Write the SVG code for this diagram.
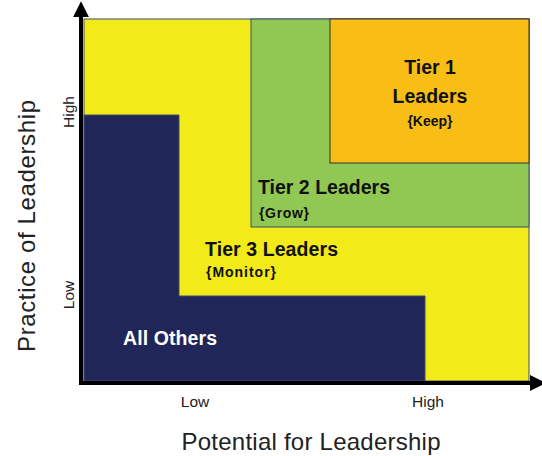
<svg xmlns="http://www.w3.org/2000/svg" width="542" height="456" viewBox="0 0 542 456">
<defs>
<style>
.t{font-family:"Liberation Sans",Arial,sans-serif;}
.b{font-weight:bold;fill:#111;font-size:19.5px;}
.s{font-weight:bold;fill:#111;font-size:14px;}
.ax{font-size:15.5px;fill:#222;}
.ttl{font-size:24px;fill:#222;}
.edge{stroke:#3d4f6e;stroke-width:1;}
</style>
<marker id="arr" viewBox="0 0 10 10" refX="2" refY="5" markerWidth="4" markerHeight="4" orient="auto" markerUnits="strokeWidth">
<path d="M0,0 L10,5 L0,10 z" fill="#000"/>
</marker>
</defs>
<rect width="542" height="456" fill="#fff"/>
<g id="tier3">
<rect x="84" y="19" width="445" height="362" fill="#f2ea19" class="edge"/>
<text class="t b" x="205" y="256" textLength="133">Tier 3 Leaders</text>
<text class="t s" x="206" y="277" textLength="70">{Monitor}</text>
</g>
<g id="tier2">
<rect x="251" y="19" width="278" height="208" fill="#90c853" class="edge"/>
<text class="t b" x="258" y="194" textLength="132">Tier 2 Leaders</text>
<text class="t s" x="259" y="218" textLength="50">{Grow}</text>
</g>
<g id="tier1">
<rect x="330" y="19" width="199" height="144" fill="#f9be16" stroke="#333" stroke-width="1"/>
<text class="t b" x="430" y="74" text-anchor="middle">Tier 1</text>
<text class="t b" x="430" y="103" text-anchor="middle">Leaders</text>
<text class="t s" x="430" y="126" text-anchor="middle">{Keep}</text>
</g>
<g id="others">
<path d="M84,115 H179 V296 H425 V381 H84 Z" fill="#212659" class="edge"/>
<text class="t" x="123" y="345" font-size="19.5" font-weight="bold" fill="#fff" textLength="94">All Others</text>
</g>
<g id="axes">
<line x1="81" y1="384" x2="81" y2="14" stroke="#000" stroke-width="4" marker-end="url(#arr)"/>
<line x1="79" y1="383" x2="533" y2="383" stroke="#000" stroke-width="4" marker-end="url(#arr)"/>
</g>
<g id="labels">
<text class="t ax" x="195" y="407" text-anchor="middle">Low</text>
<text class="t ax" x="428" y="407" text-anchor="middle">High</text>
<text class="t ax" transform="translate(74,112) rotate(-90)" text-anchor="middle">High</text>
<text class="t ax" transform="translate(74,295) rotate(-90)" text-anchor="middle">Low</text>
<text class="t ttl" x="311" y="450" text-anchor="middle" textLength="259">Potential for Leadership</text>
<text class="t ttl" transform="translate(35,226) rotate(-90)" text-anchor="middle" textLength="252">Practice of Leadership</text>
</g>
</svg>
